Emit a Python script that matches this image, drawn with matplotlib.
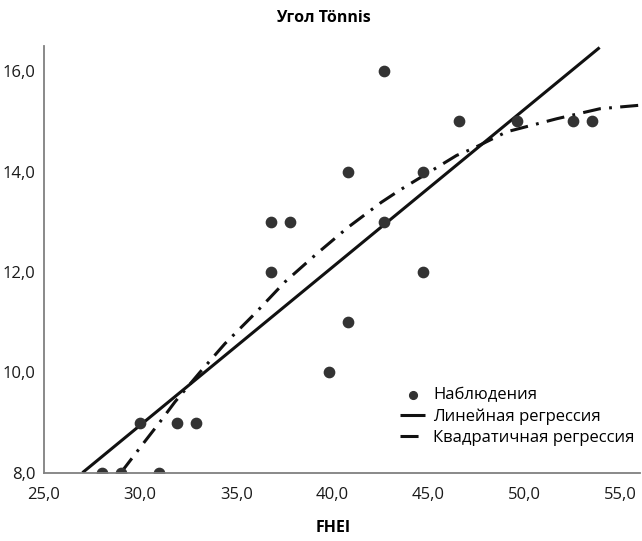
import matplotlib
matplotlib.use("Agg")
import matplotlib.pyplot as plt
from matplotlib.ticker import FuncFormatter

plt.rcParams['font.family'] = ['Open Sans', 'DejaVu Sans']
plt.rcParams['lines.scale_dashes'] = False

# observations (FHEI, Tönnis angle)
obs_x = [28.0, 29.0, 31.0, 30.0, 31.9, 32.9, 36.8, 36.8, 37.8, 39.8,
         40.8, 40.8, 42.7, 42.7, 44.7, 44.7, 46.6, 49.6, 52.5, 53.5]
obs_y = [8, 8, 8, 9, 9, 9, 12, 13, 13, 10,
         11, 14, 13, 16, 12, 14, 15, 15, 15, 15]

# linear regression line, end points
lin_x = [27.0, 53.9]
lin_y = [8.0, 16.47]

# quadratic regression curve
quad_x = [29.0, 29.56, 30.22, 31.03, 31.81, 33.11, 34.41, 35.97, 37.53, 39.18,
          40.82, 42.56, 43.51, 46.46, 47.32, 49.06, 51.66, 53.91, 55.99]
quad_y = [8.0, 8.28, 8.61, 9.01, 9.41, 10.0, 10.57, 11.17, 11.8, 12.36,
          12.89, 13.39, 13.63, 14.32, 14.46, 14.79, 15.05, 15.25, 15.32]

x_ticks = [25, 30, 35, 40, 45, 50, 55]
y_ticks = [8, 10, 12, 14, 16]

fig = plt.figure(figsize=(6.42, 5.41), dpi=100)
ax = fig.add_axes([44 / 642, 68.3 / 541, 596 / 642, 426.7 / 541])

ax.scatter(obs_x, obs_y, s=55, color='#333333', zorder=3, label='Наблюдения')
ax.plot(lin_x, lin_y, color='#111111', lw=2.2, label='Линейная регрессия',
        solid_capstyle='butt')
ax.plot(quad_x, quad_y, color='#111111', lw=2.2, linestyle=(0, (13, 6, 2, 6)),
        label='Квадратичная регрессия')

ax.set_xlim(25, 56)
ax.set_ylim(8, 16.5)
ax.set_xticks(x_ticks)
ax.set_yticks(y_ticks)
fmt = FuncFormatter(lambda v, p: f"{v:.1f}".replace('.', ','))
ax.xaxis.set_major_formatter(fmt)
ax.yaxis.set_major_formatter(fmt)
ax.tick_params(length=0, labelsize=12, colors='#1a1a1a')
ax.tick_params(axis='x', pad=10)
ax.tick_params(axis='y', pad=6)

for s in ['top', 'right']:
    ax.spines[s].set_visible(False)
for s in ['left', 'bottom']:
    ax.spines[s].set_color('#808080')
    ax.spines[s].set_linewidth(1.3)
    ax.spines[s].set_zorder(4)

fig.text(323 / 642, 1 - 18 / 541, 'Угол Tönnis', ha='center', va='center',
         fontsize=11.5, fontweight='bold')
fig.text(333 / 642, 1 - 528 / 541, 'FHEI', ha='center', va='center',
         fontsize=11.5, fontweight='bold')

leg = ax.legend(loc='upper left', bbox_to_anchor=(400 / 642, 1 - 387 / 541),
                bbox_transform=fig.transFigure, frameon=False, fontsize=12,
                handlelength=1.5, handletextpad=0.5, labelspacing=0.32,
                borderpad=0, borderaxespad=0, markerscale=0.75)

plt.savefig('out.png', dpi=100)
